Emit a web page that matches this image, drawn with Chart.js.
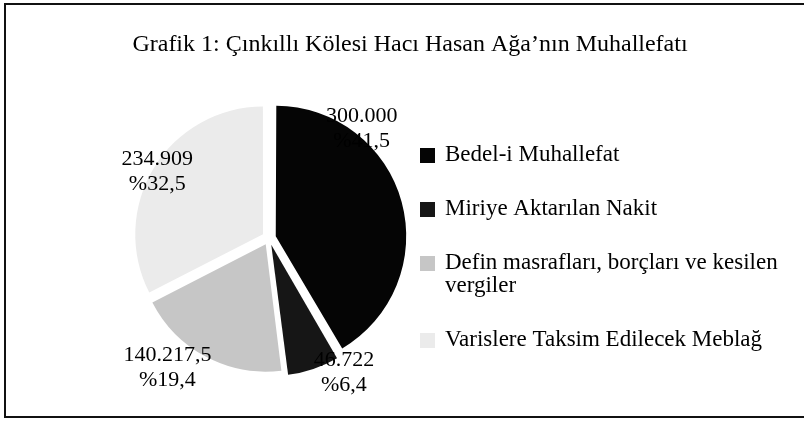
<!DOCTYPE html>
<html>
<head>
<meta charset="utf-8">
<script src="https://cdn.jsdelivr.net/npm/chart.js@4.4.1/dist/chart.umd.min.js"></script>
<style>
  html, body { margin: 0; padding: 0; background: #fff; }
  #wrap { width: 804px; height: 421px; }
</style>
</head>
<body>
<div id="wrap"><canvas id="myChart" width="804" height="421"></canvas></div>
<script>
const title = 'Grafik 1: Çınkıllı Kölesi Hacı Hasan Ağa’nın Muhallefatı';
const categories = ['Bedel-i Muhallefat', 'Miriye Aktarılan Nakit', 'Defin masrafları, borçları ve kesilen vergiler', 'Varislere Taksim Edilecek Meblağ'];
const values = [300000, 46722, 140217.5, 234909];
const valueLabels = ['300.000', '46.722', '140.217,5', '234.909'];
const percentLabels = ['%41,5', '%6,4', '%19,4', '%32,5'];
const colors = ['#050505', '#161616', '#c6c6c6', '#ebebeb'];

const serif = '"Liberation Serif", "DejaVu Serif", serif';

// where each data label sits, relative to the slice centre, in radii
const labelSpots = [[0.73, -0.86], [0.59, 1.06], [-0.80, 1.02], [-0.88, -0.52]];

const decor = {
    id: 'decor',
    beforeDraw(chart) {
        const c = chart.ctx;
        c.save();
        c.fillStyle = '#fff';
        c.fillRect(0, 0, chart.width, chart.height);
        c.strokeStyle = '#111';
        c.lineWidth = 2;
        c.strokeRect(5, 4, chart.width + 10, 413);
        c.fillStyle = '#000';
        c.font = '24px ' + serif;
        c.textAlign = 'center';
        c.textBaseline = 'middle';
        c.fillText(title, 410, 45);
        c.restore();
    },
    afterDatasetsDraw(chart) {
        const c = chart.ctx;
        const arcs = chart.getDatasetMeta(0).data;
        c.save();
        c.fillStyle = '#000';
        c.font = '22px ' + serif;
        c.textAlign = 'center';
        c.textBaseline = 'middle';
        arcs.forEach((arc, i) => {
            const r = arc.outerRadius;
            const x = arc.x + labelSpots[i][0] * r;
            const y = arc.y + labelSpots[i][1] * r;
            c.fillText(valueLabels[i], x, y - 12.5);
            c.fillText(percentLabels[i], x, y + 12.5);
        });

        // legend
        c.font = '23px ' + serif;
        c.textAlign = 'left';
        const maxW = 345;
        let y = 155;
        categories.forEach((cat, i) => {
            const words = cat.split(' ');
            const lines = [];
            let line = '';
            words.forEach(w => {
                const t = line ? line + ' ' + w : w;
                if (c.measureText(t).width > maxW && line) {
                    lines.push(line);
                    line = w;
                } else {
                    line = t;
                }
            });
            lines.push(line);
            c.fillStyle = colors[i];
            c.fillRect(420, y - 7, 15, 15);
            c.fillStyle = '#000';
            lines.forEach((l, k) => c.fillText(l, 445, y + k * 23));
            y += lines.length * 23 + 31;
        });
        c.restore();
    }
};

const ctx = document.getElementById('myChart').getContext('2d');

const myChart = new Chart(ctx, {
    type: 'pie',
    data: {
        labels: categories,
        datasets: [{
            data: values,
            backgroundColor: colors,
            borderWidth: 0,
            offset: 28
        }]
    },
    options: {
        responsive: false,
        animation: false,
        maintainAspectRatio: false,
        radius: 127,
        layout: {
            padding: {left: 137, right: 403, top: 106, bottom: 51}
        },
        plugins: {
            legend: {display: false},
            tooltip: {enabled: false},
            title: {display: false}
        }
    },
    plugins: [decor]
});
</script>
</body>
</html>
